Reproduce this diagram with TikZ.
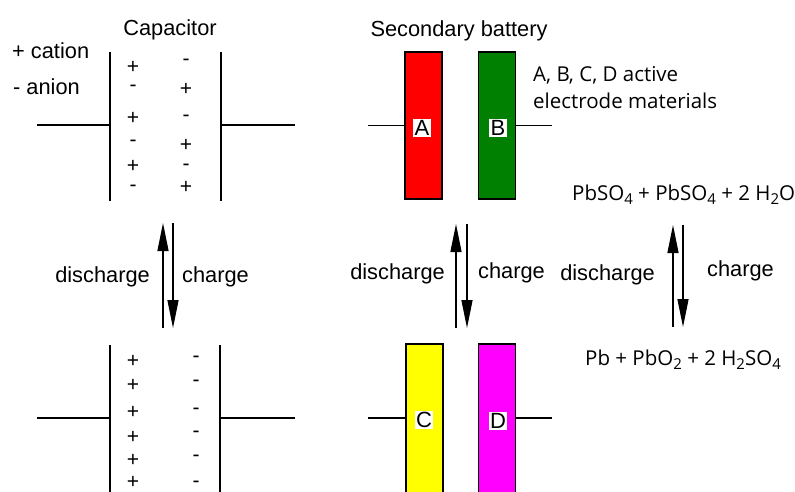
\documentclass[tikz,border=0pt]{standalone}
\usepackage{fontspec}
\setmainfont{Liberation Sans}
\newfontfamily\chemfont{Open Sans}
\usetikzlibrary{arrows.meta,positioning}

\definecolor{elec-red}{RGB}{255,0,0}
\definecolor{elec-green}{RGB}{0,128,0}
\definecolor{elec-yellow}{RGB}{255,255,0}
\definecolor{elec-magenta}{RGB}{255,0,255}

\newcommand{\lowsub}[1]{\raisebox{-0.45ex}{\fontsize{15}{15}\selectfont #1}}

\tikzset{
  wire/.style={line width=1.3pt},
  plate/.style={line width=1.6pt},
  electrode/.style={draw=black, line width=1.3pt, minimum width=37pt, inner sep=0pt},
  elabel/.style={fill=white, inner sep=1.5pt, font=\fontsize{22}{22}\selectfont},
  sign/.style={inner sep=0pt, font=\fontsize{21}{21}\selectfont},
  txt/.style={inner sep=0pt, font=\fontsize{21.8}{25}\selectfont},
  chem/.style={inner sep=0pt, font=\chemfont\fontsize{20.5}{25}\selectfont},
  revarrow/.style={line width=1.3pt, -{Triangle[length=28pt,width=11pt]}},
}

\begin{document}
\begin{tikzpicture}[x=1pt, y=-1pt]
  \useasboundingbox (0,0) rectangle (795,491);
  \clip (0,0) rectangle (795,491);

  % capacitor, charged
  \node[txt, anchor=base] (capTitle) at (170,35) {Capacitor};
  \node[txt, anchor=base west] (cation) at (12,58) {+ cation};
  \node[txt, anchor=base west] (anion) at (13,94) {- anion};

  \coordinate (capTopLa) at (110,52);  \coordinate (capTopLb) at (110,201);
  \coordinate (capTopRa) at (221,52);  \coordinate (capTopRb) at (221,201);
  \draw[plate] (capTopLa) -- (capTopLb);
  \draw[plate] (capTopRa) -- (capTopRb);
  \coordinate (capTopWireL) at (37,125);  \coordinate (capTopMidL) at (110,125);
  \coordinate (capTopWireR) at (295,125); \coordinate (capTopMidR) at (221,125);
  \draw[wire] (capTopWireL) -- (capTopMidL);
  \draw[wire] (capTopMidR) -- (capTopWireR);

  \foreach \y/\s [count=\i] in {67/+, 88/-, 118/+, 143/-, 166/+, 188/-} {
    \node[sign] (capTopL\i) at (133,\y) {\s};
  }
  \foreach \y/\s [count=\i] in {62/-, 89/+, 118/-, 145/+, 167/-, 187/+} {
    \node[sign] (capTopR\i) at (186,\y) {\s};
  }

  % capacitor, discharged
  \coordinate (capBotLa) at (110,345);  \coordinate (capBotLb) at (110,495);
  \coordinate (capBotRa) at (220,345);  \coordinate (capBotRb) at (220,495);
  \draw[plate] (capBotLa) -- (capBotLb);
  \draw[plate] (capBotRa) -- (capBotRb);
  \coordinate (capBotWireL) at (37,418);  \coordinate (capBotMidL) at (110,418);
  \coordinate (capBotWireR) at (295,418); \coordinate (capBotMidR) at (220,418);
  \draw[wire] (capBotWireL) -- (capBotMidL);
  \draw[wire] (capBotMidR) -- (capBotWireR);

  \foreach \y [count=\i] in {361, 385, 412, 437, 460, 482} {
    \node[sign] (capBotL\i) at (133,\y) {+};
  }
  \foreach \y [count=\i] in {359, 383, 411, 434, 458, 484} {
    \node[sign] (capBotR\i) at (196,\y) {-};
  }

  % capacitor arrows
  \coordinate (capUpA) at (163,328);  \coordinate (capUpB) at (163,223);
  \coordinate (capDnA) at (173,223);  \coordinate (capDnB) at (173,328);
  \draw[revarrow] (capUpA) -- (capUpB);
  \draw[revarrow] (capDnA) -- (capDnB);
  \node[txt, anchor=base east] (capDis) at (150,282) {discharge};
  \node[txt, anchor=base west] (capChg) at (182,282) {charge};

  % secondary battery, charged
  \node[txt, anchor=base] (batTitle) at (459,36) {Secondary battery};
  \node[electrode, fill=elec-red, minimum height=147pt] (elA) at (423.5,125.5) {};
  \node[electrode, fill=elec-green, minimum height=147pt] (elB) at (497,125.5) {};
  \node[elabel] (labA) at (422,128) {A};
  \node[elabel] (labB) at (498,128) {B};
  \coordinate (batTopWireL) at (368,125.5);
  \coordinate (batTopWireR) at (552,125.5);
  \draw[wire] (batTopWireL) -- (elA.west);
  \draw[wire] (elB.east) -- (batTopWireR);

  \node[chem, anchor=base west] (active) at (533,81) {A, B, C, D active};
  \node[chem, anchor=base west] (materials) at (533,108) {electrode materials};

  % secondary battery, discharged
  \node[electrode, fill=elec-yellow, minimum height=150pt] (elC) at (424.5,419) {};
  \node[electrode, fill=elec-magenta, minimum height=150pt] (elD) at (497,419) {};
  \node[elabel] (labC) at (424,420) {C};
  \node[elabel] (labD) at (498,421) {D};
  \coordinate (batBotWireL) at (368,418);
  \coordinate (batBotWireR) at (552,418);
  \draw[wire] (batBotWireL) -- (batBotWireL -| elC.west);
  \draw[wire] (batBotWireR -| elD.east) -- (batBotWireR);

  % battery arrows
  \coordinate (batUpA) at (456,328);  \coordinate (batUpB) at (456,224);
  \coordinate (batDnA) at (467,224);  \coordinate (batDnB) at (467,328);
  \draw[revarrow] (batUpA) -- (batUpB);
  \draw[revarrow] (batDnA) -- (batDnB);
  \node[txt, anchor=base east] (batDis) at (445,279) {discharge};
  \node[txt, anchor=base west] (batChg) at (478,278) {charge};

  % lead-acid reaction
  \node[chem, anchor=base west] (discharged) at (572,200)
    {PbSO\lowsub{4} + PbSO\lowsub{4} + 2 H\lowsub{2}O};
  \node[chem, anchor=base west] (charged) at (585,365)
    {Pb + PbO\lowsub{2} + 2 H\lowsub{2}SO\lowsub{4}};
  \coordinate (rxnUpA) at (673,327);  \coordinate (rxnUpB) at (673,225);
  \coordinate (rxnDnA) at (683,225);  \coordinate (rxnDnB) at (683,327);
  \draw[revarrow] (rxnUpA) -- (rxnUpB);
  \draw[revarrow] (rxnDnA) -- (rxnDnB);
  \node[txt, anchor=base east] (rxnDis) at (655,280) {discharge};
  \node[txt, anchor=base west] (rxnChg) at (707,276) {charge};

\end{tikzpicture}
\end{document}
